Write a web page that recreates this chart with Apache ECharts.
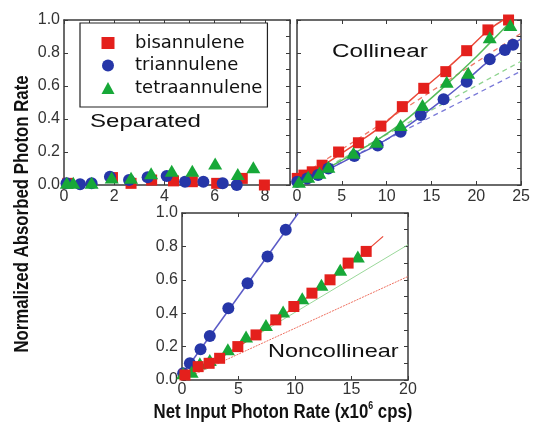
<!DOCTYPE html>
<html><head><meta charset="utf-8">
<script src="https://cdn.jsdelivr.net/npm/echarts@6/dist/echarts.min.js"></script>
<style>html,body{margin:0;padding:0;background:#fff}#c{width:533px;height:426px}</style>
</head><body><div id="c"></div>
<script>
// ---- Data ----
const seriesNames = ['bisannulene', 'triannulene', 'tetraannulene'];
// Separated panel
const sepBis = [[0.15,0.01],[1.93,0.045],[2.67,0.01],[3.49,0.03],[4.36,0.025],[5.11,0.02],[6.08,0.01],[7.1,0.04],[7.98,0.0]];
const sepTri = [[0.1,0.01],[0.64,0.005],[1.1,0.01],[1.83,0.05],[2.59,0.03],[3.33,0.047],[4.09,0.055],[4.82,0.02],[5.55,0.02],[6.32,0.01],[6.88,0.0]];
const sepTetra = [[0.11,0.014],[0.37,0.014],[1.1,0.014],[1.9,0.046],[2.67,0.044],[3.47,0.071],[4.29,0.087],[5.11,0.087],[6.02,0.131],[6.92,0.067],[7.54,0.107]];
// Collinear panel
const colBis = [[0.03,0.04],[0.77,0.06],[1.7,0.08],[2.8,0.12],[4.64,0.2],[6.85,0.256],[9.36,0.357],[11.75,0.475],[14.14,0.586],[16.6,0.687],[18.93,0.814],[21.3,0.94],[23.6,1.0]];
const colTri = [[0.03,0.02],[1.14,0.04],[2.35,0.06],[3.5,0.1],[6.4,0.176],[9.0,0.24],[11.56,0.323],[13.8,0.424],[16.35,0.52],[18.93,0.626],[21.5,0.762],[23.2,0.818],[24.1,0.85]];
const colTetra = [[0.22,0.02],[1.25,0.05],[2.5,0.075],[3.5,0.11],[6.3,0.196],[8.87,0.262],[11.56,0.364],[14.0,0.485],[16.7,0.626],[19.1,0.68],[21.5,0.895],[23.8,0.97]];
const colBisFit = [[0,0.03],[2.8,0.115],[6.85,0.26],[9.36,0.355],[11.75,0.47],[14.14,0.585],[16.6,0.7],[18.93,0.815],[21.3,0.935],[23.0,1.0]];
const colTriFit = [[0,0.01],[3.5,0.095],[6.4,0.175],[9.0,0.245],[11.56,0.33],[13.8,0.415],[16.35,0.52],[18.93,0.635],[21.5,0.755],[25,0.885]];
const colTetraFit = [[0,0.01],[3.5,0.105],[6.3,0.19],[8.87,0.27],[11.56,0.37],[14.0,0.48],[16.7,0.61],[19.1,0.73],[21.5,0.86],[24.0,1.0]];
const colBisLin = [[0,0.04],[25,0.92]];
const colTriLin = [[0,0.0],[25,0.69]];
const colTetraLin = [[0,0.01],[25,0.75]];
// Noncollinear panel
const ncBis = [[0.26,0.03],[1.43,0.08],[2.4,0.1],[3.33,0.13],[4.94,0.2],[6.55,0.27],[8.3,0.36],[9.9,0.44],[11.5,0.52],[13.1,0.6],[14.7,0.7],[16.3,0.77]];
const ncTri = [[0.1,0.04],[0.7,0.1],[1.64,0.184],[2.46,0.263],[4.1,0.43],[5.8,0.58],[7.57,0.74],[9.18,0.9]];
const ncTetra = [[0.1,0.04],[0.85,0.05],[1.58,0.1],[2.46,0.12],[4.06,0.184],[5.67,0.26],[7.43,0.33],[8.95,0.41],[10.64,0.49],[12.34,0.57],[14.0,0.66],[15.56,0.74]];
const ncTriFit = [[0,0.03],[10.3,1.0]];
const ncBisFit = [[0,0.01],[5,0.2],[10,0.44],[15,0.7],[17.8,0.86]];
const ncTetraLin = [[0,0.0],[20,0.81]];
const ncBisLin = [[0,0.0],[20,0.62]];
const xTicksSep = [0, 9, 2];
const xTicksCol = [0, 25, 5];
const xTicksNc = [0, 20, 5];

// ---- Styling ----
const RED = '#e4201c', BLUE = '#2636a8', GREEN = '#17a838';
const RED_L = '#ea4a3a', BLUE_L = '#5a5ac6', GREEN_L = '#55bb5a';
const AX = '#3a3a3a';
const lab = {fontFamily:'Liberation Sans', fontSize:16, color:'#333'};

const grids = [
  {left:64, top:20, width:226, height:165},
  {left:297, top:20, width:226, height:165},
  {left:182, top:213, width:226, height:167}
];

function xAx(i, t, showLab, margin) {
  return {type:'value', gridIndex:i, min:t[0], max:t[1], interval:t[2],
    axisLine:{show:true, onZero:false, lineStyle:{color:AX, width:1.5}},
    axisTick:{show:true, inside:true, length:4, lineStyle:{color:AX}},
    splitLine:{show:false},
    axisLabel:{show:showLab, margin:margin, ...lab,
      formatter: v => (Math.abs(v % t[2]) < 1e-9 ? String(v) : '')}};
}
function xTop(i, t, step) {
  return {type:'value', gridIndex:i, position:'top', min:t[0], max:t[1], interval:step,
    axisLine:{show:true, onZero:false, lineStyle:{color:AX, width:1.5}},
    axisTick:{show:true, inside:true, length:4, lineStyle:{color:AX}},
    splitLine:{show:false}, axisLabel:{show:false}};
}
function yAx(i, showLab) {
  return {type:'value', gridIndex:i, min:0, max:1, interval:0.2,
    axisLine:{show:true, onZero:false, lineStyle:{color:AX, width:1.5}},
    axisTick:{show:true, inside:true, length:4, lineStyle:{color:AX}},
    splitLine:{show:false},
    axisLabel:{show:showLab, margin:4, ...lab, formatter: v => v.toFixed(1)}};
}
function yRight(i) {
  return {type:'value', gridIndex:i, position:'right', min:0, max:1, interval:0.1,
    axisLine:{show:true, onZero:false, lineStyle:{color:AX, width:1.5}},
    axisTick:{show:true, inside:true, length:4, lineStyle:{color:AX}},
    splitLine:{show:false}, axisLabel:{show:false}};
}

function sc(name, data, gi, z) {
  const st = name === 'bisannulene' ? {symbol:'rect', symbolSize:11, color:RED}
           : name === 'triannulene' ? {symbol:'circle', symbolSize:12, color:BLUE}
           : {symbol:'triangle', symbolSize:[14,12], color:GREEN};
  return {type:'scatter', name:name, xAxisIndex:gi, yAxisIndex:gi, data:data,
    symbol:st.symbol, symbolSize:st.symbolSize, itemStyle:{color:st.color, opacity:1}, z:z};
}
function ln(data, gi, color, width, type, smooth) {
  return {type:'line', xAxisIndex:gi, yAxisIndex:gi, data:data, showSymbol:false,
    smooth:smooth, lineStyle:{color:color, width:width, type:type}, z:1, silent:true};
}

const option = {
  animation:false,
  backgroundColor:'#fff',
  grid:grids,
  xAxis:[xAx(0, xTicksSep, true, 4), xAx(1, xTicksCol, true, 4), xAx(2, xTicksNc, true, 2),
         xTop(0, xTicksSep, 1), xTop(1, xTicksCol, 5), xTop(2, xTicksNc, 5)],
  yAxis:[yAx(0, true), yAx(1, false), yAx(2, true), yRight(0), yRight(1), yRight(2)],
  legend:{
    data:seriesNames, orient:'vertical', left:80, top:23,
    padding:[11, 5, 10, 21.5], itemGap:4.5, itemWidth:13, itemHeight:12,
    borderColor:'#222', borderWidth:1.2, backgroundColor:'#fff',
    textStyle:{fontFamily:'DejaVu Sans', fontSize:18, color:'#111', padding:[0,0,0,15.5]}
  },
  graphic:[
    {type:'text', x:22, y:214, rotation:Math.PI/2, scaleX:0.8,
      style:{text:'Normalized Absorbed Photon Rate', fontFamily:'Liberation Sans', fontWeight:'bold',
        fontSize:21, fill:'#111', align:'center', verticalAlign:'middle'}},
    {type:'text', x:283, y:412, scaleX:0.8,
      style:{text:'{a|Net Input Photon Rate (x10}{s|6}{a| cps)}', align:'center', verticalAlign:'middle',
        rich:{a:{fontFamily:'Liberation Sans', fontWeight:'bold', fontSize:21, fill:'#111'},
              s:{fontFamily:'Liberation Sans', fontWeight:'bold', fontSize:11, fill:'#111', padding:[0,0,12,0]}}}},
    {type:'text', x:90, y:122, scaleX:1.3,
      style:{text:'Separated', fontFamily:'Liberation Sans', fontSize:18.5, fill:'#111', align:'left', verticalAlign:'middle'}},
    {type:'text', x:332, y:52, scaleX:1.35,
      style:{text:'Collinear', fontFamily:'Liberation Sans', fontSize:18, fill:'#111', align:'left', verticalAlign:'middle'}},
    {type:'text', x:268, y:352, scaleX:1.27,
      style:{text:'Noncollinear', fontFamily:'Liberation Sans', fontSize:18.5, fill:'#111', align:'left', verticalAlign:'middle'}}
  ],
  series:[
    sc('bisannulene', sepBis, 0, 3), sc('triannulene', sepTri, 0, 4), sc('tetraannulene', sepTetra, 0, 5),
    ln(colBisLin, 1, '#ef7a6a', 1.3, [5,4], false),
    ln(colTetraLin, 1, '#8fd48f', 1.3, [5,4], false),
    ln(colTriLin, 1, '#7a7ad8', 1.3, [5,4], false),
    ln(colBisFit, 1, RED_L, 1.5, 'solid', true),
    ln(colTetraFit, 1, GREEN_L, 1.5, 'solid', true),
    ln(colTriFit, 1, BLUE_L, 1.5, 'solid', true),
    sc('bisannulene', colBis, 1, 3), sc('triannulene', colTri, 1, 4), sc('tetraannulene', colTetra, 1, 5),
    ln(ncBisLin, 2, '#ee7060', 1, [2,1], false),
    ln(ncTetraLin, 2, '#9ad89a', 1, 'solid', false),
    ln(ncBisFit, 2, RED_L, 1.3, 'solid', true),
    ln(ncTriFit, 2, BLUE_L, 1.5, 'solid', false),
    sc('triannulene', ncTri, 2, 4), sc('tetraannulene', ncTetra, 2, 4), sc('bisannulene', ncBis, 2, 5)
  ]
};
const chart = echarts.init(document.getElementById('c'), null, {renderer:'canvas'});
chart.setOption(option);
</script></body></html>
